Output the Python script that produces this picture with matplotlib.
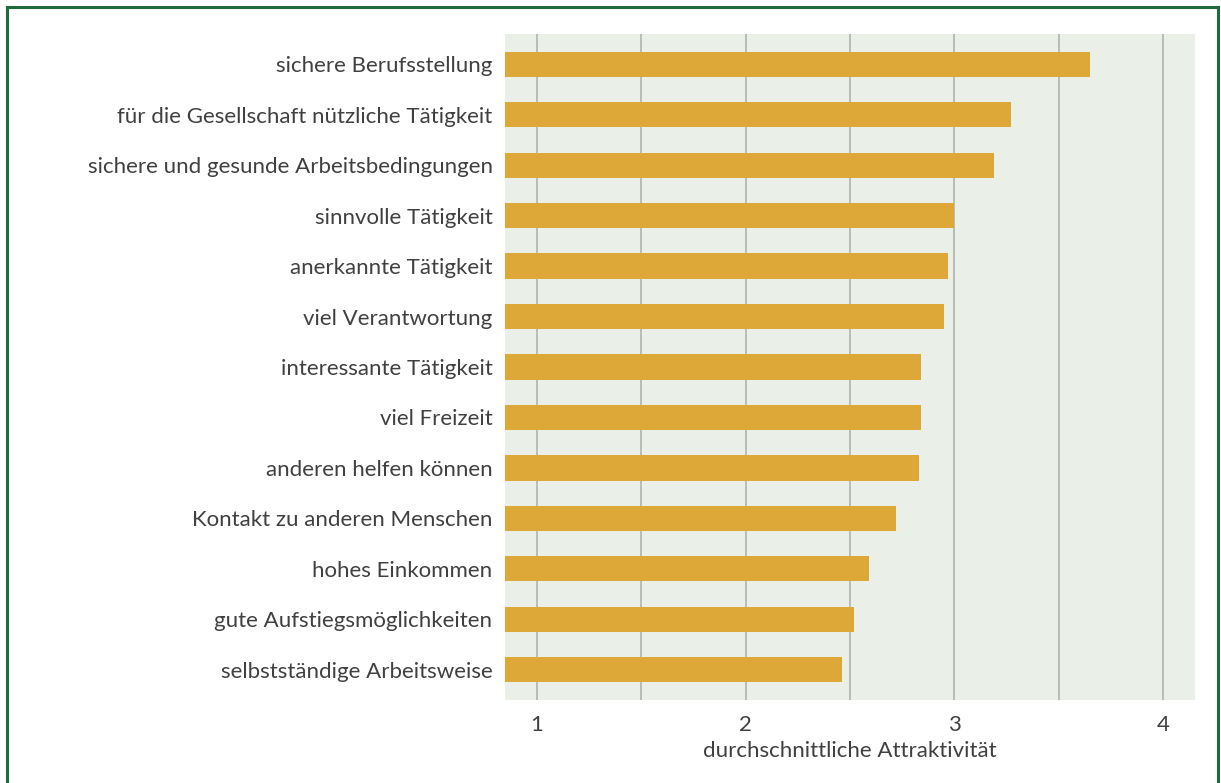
import matplotlib
matplotlib.use('Agg')
import matplotlib.pyplot as plt
from matplotlib.patches import Rectangle

categories = [
    'sichere Berufsstellung',
    'für die Gesellschaft nützliche Tätigkeit',
    'sichere und gesunde Arbeitsbedingungen',
    'sinnvolle Tätigkeit',
    'anerkannte Tätigkeit',
    'viel Verantwortung',
    'interessante Tätigkeit',
    'viel Freizeit',
    'anderen helfen können',
    'Kontakt zu anderen Menschen',
    'hohes Einkommen',
    'gute Aufstiegsmöglichkeiten',
    'selbstständige Arbeitsweise',
]
values = [3.65, 3.27, 3.19, 3.00, 2.97, 2.95, 2.84, 2.84, 2.83, 2.72, 2.59, 2.52, 2.46]
xticks = [1, 2, 3, 4]
xlabel = 'durchschnittliche Attraktivität'

plt.rcParams['font.family'] = ['Lato', 'DejaVu Sans']
text_color = '#404040'

fig = plt.figure(figsize=(12.21, 7.83), dpi=100)
ax = fig.add_axes([505 / 1221, 1 - 700 / 783, 690 / 1221, 666 / 783])
ax.set_facecolor('#eaf0e8')

x0 = 0.847
ypos = list(range(len(categories)))
ax.barh(ypos, [v - x0 for v in values], left=x0, height=0.5,
        color='#dea838', zorder=3)

ax.set_xlim(x0, 4.153)
ax.set_ylim(len(categories) - 0.4, -0.6)

# grid every half unit, labels only on whole numbers
for g in [1, 1.5, 2, 2.5, 3, 3.5, 4]:
    ax.axvline(g, color='#b4b8b4', lw=1.3, zorder=1)

ax.set_xticks(xticks)
ax.set_xticklabels([str(t) for t in xticks], fontsize=16, color=text_color)
ax.set_yticks(ypos)
ax.set_yticklabels(categories, fontsize=16, color=text_color)
ax.tick_params(length=0)
ax.tick_params(axis='y', pad=9)
ax.tick_params(axis='x', pad=11)
ax.set_xlabel(xlabel, fontsize=16, color=text_color, labelpad=4)
for s in ax.spines.values():
    s.set_visible(False)

# outer frame
fig.patches.append(Rectangle((7 / 1221, -0.02), 1211 / 1221, 1 - 7 / 783 + 0.02,
                             transform=fig.transFigure, fill=False,
                             edgecolor='#1e6b3c', lw=2.2))

fig.savefig('out.png', dpi=100)
